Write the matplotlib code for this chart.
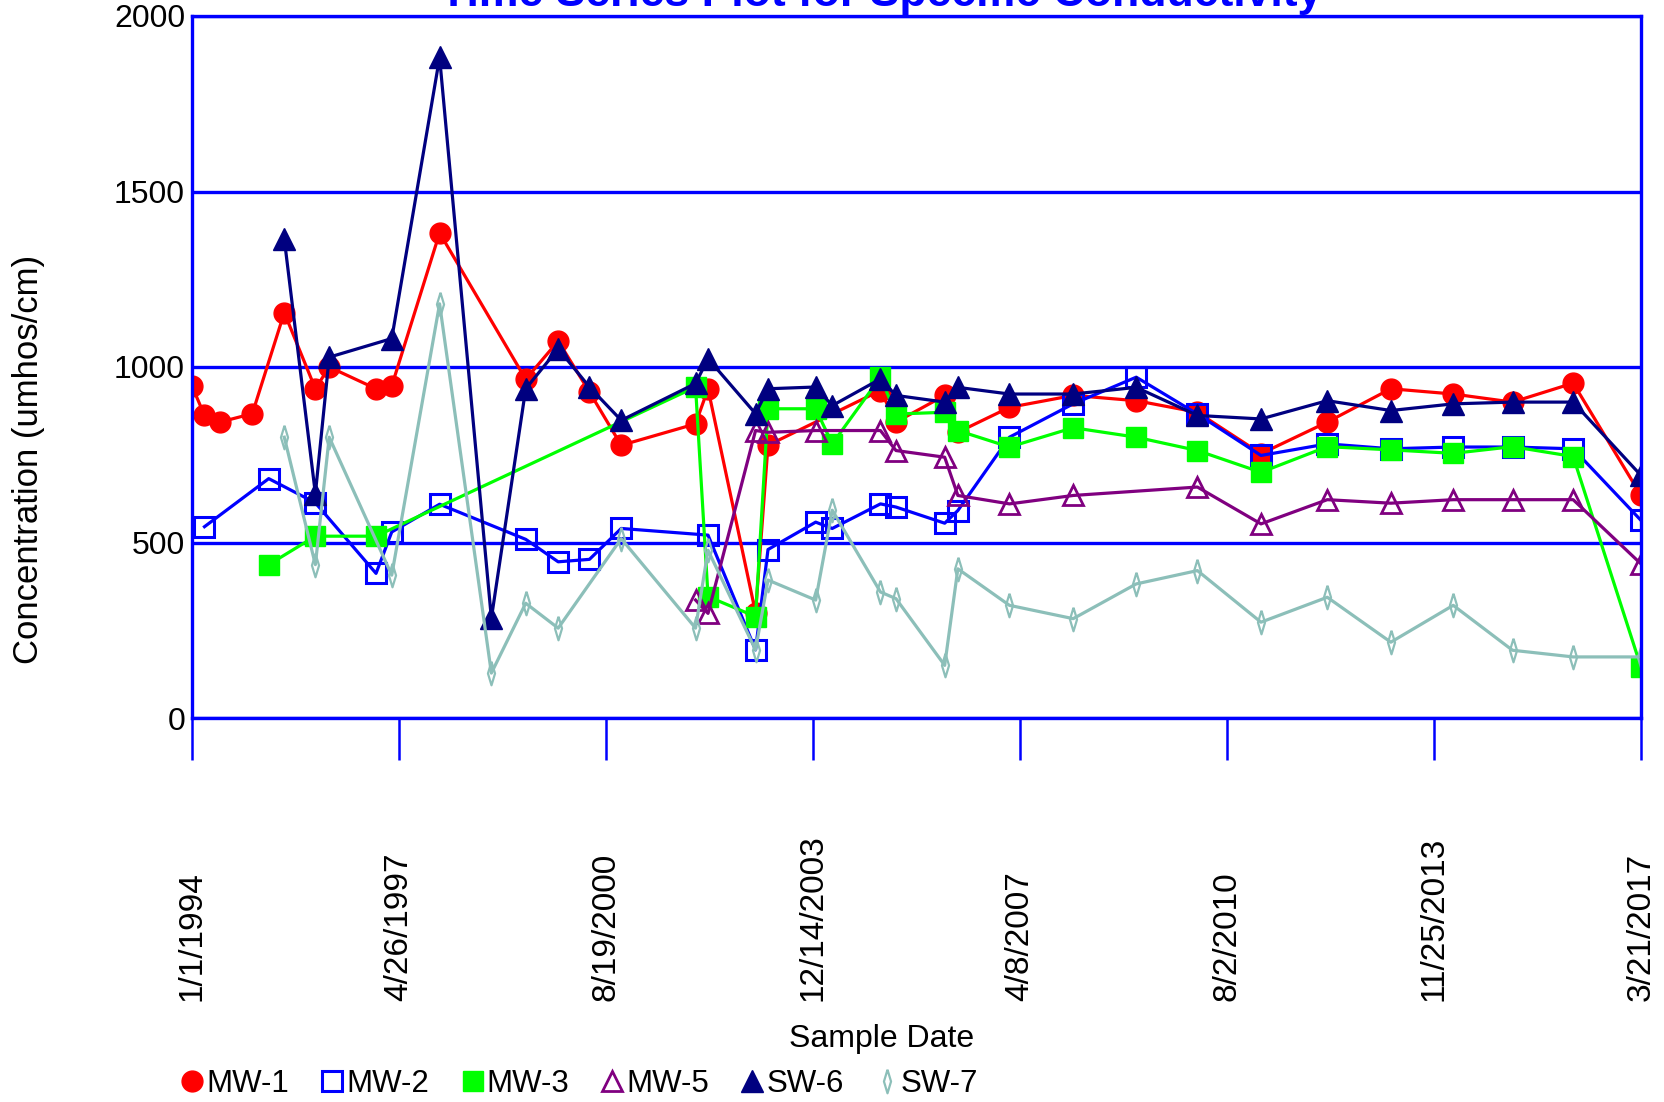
import matplotlib
matplotlib.use('Agg')
import matplotlib.pyplot as plt
import pandas as pd
from matplotlib.lines import Line2D

plt.rcParams['font.family'] = ['Liberation Sans', 'DejaVu Sans']

# sample data (umhos/cm)
mw1_dates = ['1994-01-01', '1994-03-15', '1994-06-13', '1994-12-20', '1995-06-25', '1995-12-24',
             '1996-03-14', '1996-12-13', '1997-03-15', '1997-12-20', '1999-05-08', '1999-11-14',
             '2000-05-15', '2000-11-17', '2002-01-26', '2002-04-09', '2003-01-12', '2003-03-26',
             '2005-01-12', '2005-04-13', '2006-01-23', '2006-04-10', '2007-02-06', '2008-02-14',
             '2009-02-17', '2010-02-10', '2011-02-17', '2012-03-11', '2013-03-18', '2014-03-18',
             '2015-02-28', '2016-02-18', '2017-03-21']
mw1_vals = [946, 862, 843, 867, 1155, 938, 1000, 938, 946, 1382, 965, 1074, 929, 777, 838, 938,
            300, 777, 933, 843, 919, 814, 885, 919, 904, 871, 753, 843, 938, 923, 900, 954, 634]

mw2_dates = ['1994-03-15', '1995-03-26', '1995-12-24', '1996-12-13', '1997-03-15', '1997-12-20',
             '1999-05-08', '1999-11-14', '2000-05-15', '2000-11-17', '2002-04-09', '2003-01-12',
             '2003-03-26', '2003-12-30', '2004-04-05', '2005-01-12', '2005-04-13', '2006-01-23',
             '2006-04-10', '2007-02-06', '2008-02-14', '2009-02-17', '2010-02-10', '2011-02-17',
             '2012-03-11', '2013-03-18', '2014-03-18', '2015-02-28', '2016-02-18', '2017-03-21']
mw2_vals = [545, 682, 613, 412, 530, 609, 509, 445, 452, 540, 521, 194, 480, 558, 540, 610, 601,
            555, 591, 800, 895, 971, 866, 748, 781, 767, 772, 772, 767, 563]

mw3_dates = ['1995-03-26', '1995-12-24', '1996-12-13', '2002-01-26', '2002-04-09', '2003-01-12',
             '2003-03-26', '2003-12-30', '2004-04-05', '2005-01-12', '2005-04-13', '2006-01-23',
             '2006-04-10', '2007-02-06', '2008-02-14', '2009-02-17', '2010-02-10', '2011-02-17',
             '2012-03-11', '2013-03-18', '2014-03-18', '2015-02-28', '2016-02-18', '2017-03-21']
mw3_vals = [437, 518, 518, 943, 346, 289, 881, 881, 781, 971, 866, 871, 819, 772, 827, 800, 762,
            700, 773, 764, 754, 773, 745, 145]

mw5_dates = ['2002-01-26', '2002-04-09', '2003-01-12', '2003-03-26', '2003-12-30', '2005-01-12',
             '2005-04-13', '2006-01-23', '2006-04-10', '2007-02-06', '2008-02-14', '2010-02-10',
             '2011-02-17', '2012-03-11', '2013-03-18', '2014-03-18', '2015-02-28', '2016-02-18',
             '2017-03-21']
mw5_vals = [336, 298, 819, 814, 819, 819, 762, 743, 634, 610, 634, 658, 553, 622, 612, 622, 622,
            622, 439]

sw6_dates = ['1995-06-25', '1995-12-24', '1996-03-14', '1997-03-15', '1997-12-20', '1998-10-19',
             '1999-05-08', '1999-11-14', '2000-05-15', '2000-11-17', '2002-01-26', '2002-04-09',
             '2003-01-12', '2003-03-26', '2003-12-30', '2004-04-05', '2005-01-12', '2005-04-13',
             '2006-01-23', '2006-04-10', '2007-02-06', '2008-02-14', '2009-02-17', '2010-02-10',
             '2011-02-17', '2012-03-11', '2013-03-18', '2014-03-18', '2015-02-28', '2016-02-18',
             '2017-03-21']
sw6_vals = [1365, 639, 1028, 1081, 1882, 284, 938, 1052, 943, 848, 953, 1024, 867, 938, 943, 890,
            966, 919, 900, 942, 923, 923, 942, 862, 852, 904, 876, 895, 900, 900, 691]

sw7_dates = ['1995-06-25', '1995-12-24', '1996-03-14', '1997-03-15', '1997-12-20', '1998-10-19',
             '1999-05-08', '1999-11-14', '2000-11-17', '2002-01-26', '2002-04-09', '2003-01-12',
             '2003-03-26', '2003-12-30', '2004-04-05', '2005-01-12', '2005-04-13', '2006-01-23',
             '2006-04-10', '2007-02-06', '2008-02-14', '2009-02-17', '2010-02-10', '2011-02-17',
             '2012-03-11', '2013-03-18', '2014-03-18', '2015-02-28', '2016-02-18', '2017-03-21']
sw7_vals = [800, 437, 800, 407, 1180, 128, 327, 256, 511, 256, 478, 194, 393, 336, 592, 359, 340,
            150, 425, 321, 283, 382, 420, 273, 344, 216, 321, 193, 174, 174]

x_tick_labels = ['1/1/1994', '4/26/1997', '8/19/2000', '12/14/2003', '4/8/2007', '8/2/2010',
                 '11/25/2013', '3/21/2017']
y_ticks = [0, 500, 1000, 1500, 2000]

thin_diamond = [(0, 1), (0.3, 0), (0, -1), (-0.3, 0), (0, 1)]

series = [
    ('MW-1', mw1_dates, mw1_vals, dict(color='red', marker='o', ms=15)),
    ('MW-2', mw2_dates, mw2_vals, dict(color='blue', marker='s', ms=14, mfc='none', mew=2.2)),
    ('MW-3', mw3_dates, mw3_vals, dict(color='#00ff00', marker='s', ms=15)),
    ('MW-5', mw5_dates, mw5_vals, dict(color='#800080', marker='^', ms=15, mfc='none', mew=2)),
    ('SW-6', sw6_dates, sw6_vals, dict(color='#000080', marker='^', ms=16)),
    ('SW-7', sw7_dates, sw7_vals, dict(color='#8cbfb9', marker=thin_diamond, ms=17, mfc='none', mew=1.6)),
]

fig = plt.figure(figsize=(16.65, 11.02), dpi=100)
ax = fig.add_axes([192 / 1665, 1 - 718 / 1102, (1641 - 192) / 1665, (718 - 16) / 1102])

handles = []
for name, d, v, st in series:
    ax.plot(pd.to_datetime(d), v, lw=2.3, **st)
    handles.append(Line2D([], [], linestyle='none', **st))

ticks = pd.to_datetime(x_tick_labels, format='%m/%d/%Y')
ax.set_xlim(ticks[0], ticks[-1])
ax.set_ylim(0, 2000)
ax.set_xticks(ticks)
ax.set_xticklabels(x_tick_labels, rotation=90, va='bottom', ha='center')
ax.set_yticks(y_ticks)

for s in ax.spines.values():
    s.set_color('blue')
    s.set_linewidth(2.4)
ax.yaxis.grid(True, color='blue', lw=2.4)
ax.set_axisbelow(True)
ax.tick_params(axis='y', length=0, pad=5, labelsize=23)
ax.tick_params(axis='x', direction='out', length=30, width=1.8, color='blue', pad=174, labelsize=24)

fig.text(881 / 1665, 1 - 6 / 1102, 'Time Series Plot for Specific Conductivity', ha='center',
         va='baseline', fontsize=32, fontweight='bold', color='blue')
fig.text(29 / 1665, 1 - 459 / 1102, 'Concentration (umhos/cm)', rotation=90, ha='center',
         va='center', fontsize=25)
fig.text(882 / 1665, 1 - 1039 / 1102, 'Sample Date', ha='center', va='center', fontsize=23)

fig.legend(handles, [s[0] for s in series], loc='center left', bbox_to_anchor=(180 / 1665, 1 - 1084 / 1102),
           ncol=6, frameon=False, fontsize=22.5, handlelength=0.8, handletextpad=0.05,
           columnspacing=0.98, borderpad=0, borderaxespad=0)

fig.savefig('out.png', dpi=100)
